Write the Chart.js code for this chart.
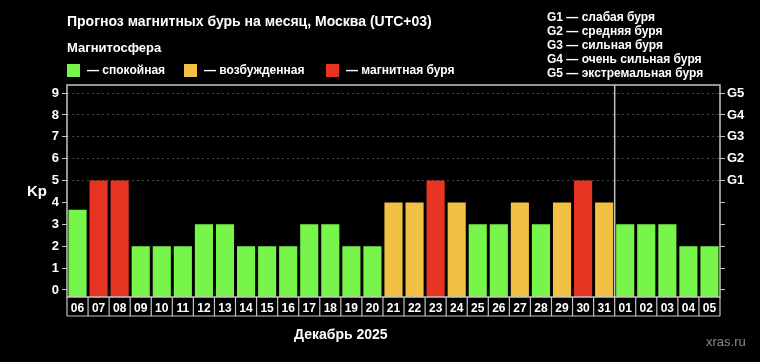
<!DOCTYPE html>
<html>
<head>
<meta charset="utf-8">
<script src="https://cdn.jsdelivr.net/npm/chart.js@4/dist/chart.umd.min.js"></script>
<style>
  html, body { margin: 0; padding: 0; background: #000; }
  #wrap { position: relative; width: 760px; height: 362px; overflow: hidden; background: #000;
    font-family: "Liberation Sans", Arial, sans-serif; color: #fff; }
  #wrap canvas { position: absolute; left: 0; top: 0; }
  .t { position: absolute; white-space: nowrap; font-weight: bold; }
  .sq { position: absolute; width: 13px; height: 13px; top: 64px; }
</style>
</head>
<body>
<div id="wrap">
  <canvas id="kpChart" width="760" height="362"></canvas>
  <div class="t" id="title" style="left:67px; top:13px; font-size:14px; line-height:16px;"></div>
  <div class="t" id="subtitle" style="left:67px; top:40px; font-size:13px; line-height:16px;"></div>
  <div id="legend"></div>
  <div class="t" id="glist" style="left:547px; top:10px; font-size:12px; line-height:14px;"></div>
  <div class="t" id="mark" style="left:706px; top:335px; font-size:13px; line-height:14px; color:#8a8a8a; font-weight:normal;">xras.ru</div>
</div>
<script>
// данные графика
const days = ['06','07','08','09','10','11','12','13','14','15','16','17','18','19','20',
              '21','22','23','24','25','26','27','28','29','30','31','01','02','03','04','05'];
const kp = [3.67, 5, 5, 2, 2, 2, 3, 3, 2, 2, 2, 3, 3, 2, 2,
            4, 4, 5, 4, 3, 3, 4, 3, 4, 5, 4, 3, 3, 3, 2, 2];
const yTicks = [0, 1, 2, 3, 4, 5, 6, 7, 8, 9];
const gLabels = ['G1', 'G2', 'G3', 'G4', 'G5'];   // Kp 5..9
const gNames = ['слабая буря', 'средняя буря', 'сильная буря', 'очень сильная буря', 'экстремальная буря'];
const stateNames = ['спокойная', 'возбужденная', 'магнитная буря'];
const stateColors = ['#78f54b', '#f2c144', '#e73423'];
const monthLabel = 'Декабрь 2025';
const titleText = 'Прогноз магнитных бурь на месяц, Москва (UTC+03)';

const Y_MIN = -0.32, Y_MAX = 9.37;
const frameColor = '#c4c4c4';
const fontFamily = '"Liberation Sans", Arial, sans-serif';

// текст над графиком
document.getElementById('title').textContent = titleText;
document.getElementById('subtitle').textContent = 'Магнитосфера';
document.getElementById('glist').innerHTML = gLabels.map((g, i) => g + ' — ' + gNames[i]).join('<br>');
const legendPos = [67, 184, 326];
document.getElementById('legend').innerHTML = stateNames.map((name, i) =>
  '<div class="sq" style="left:' + legendPos[i] + 'px; background:' + stateColors[i] + ';"></div>' +
  '<div class="t" style="left:' + (legendPos[i] + 20) + 'px; top:62px; font-size:12px; line-height:16px;">— ' + name + '</div>'
).join('');

const colorFor = (v) => v >= 5 ? stateColors[2] : (v >= 4 ? stateColors[1] : stateColors[0]);
const newMonthIdx = days.indexOf('01');

const framePlugin = {
  id: 'frame',
  afterDraw(chart) {
    const { ctx, chartArea: a, scales } = chart;
    const x = scales.x;
    const half = (x.getPixelForValue(1) - x.getPixelForValue(0)) / 2;
    ctx.save();
    ctx.strokeStyle = frameColor;
    ctx.lineWidth = 1.5;
    ctx.strokeRect(a.left, a.top, a.right - a.left, a.bottom - a.top);
    // граница месяцев
    const sx = x.getPixelForValue(newMonthIdx) - half;
    ctx.beginPath();
    ctx.moveTo(sx, a.top);
    ctx.lineTo(sx, a.bottom);
    ctx.stroke();
    // клетки с датами
    const boxBottom = a.bottom + 19;
    ctx.lineWidth = 1.2;
    ctx.beginPath();
    for (let i = 0; i <= days.length; i++) {
      const px = i < days.length ? x.getPixelForValue(i) - half : x.getPixelForValue(days.length - 1) + half;
      ctx.moveTo(px, a.bottom);
      ctx.lineTo(px, boxBottom);
    }
    ctx.moveTo(a.left, boxBottom);
    ctx.lineTo(a.right, boxBottom);
    ctx.stroke();
    // подписи
    ctx.fillStyle = '#fff';
    ctx.font = 'bold 15px ' + fontFamily;
    ctx.textAlign = 'center';
    ctx.textBaseline = 'middle';
    ctx.fillText('Kp', 37, scales.y.getPixelForValue(4.5));
    ctx.font = 'bold 14px ' + fontFamily;
    ctx.fillText(monthLabel, (a.left + sx) / 2, 335);
    ctx.restore();
  }
};

new Chart(document.getElementById('kpChart'), {
  type: 'bar',
  data: {
    labels: days,
    datasets: [{
      data: kp,
      base: Y_MIN,
      backgroundColor: kp.map(colorFor),
      borderWidth: 0,
      categoryPercentage: 1,
      barPercentage: 0.86
    }]
  },
  options: {
    responsive: false,
    animation: false,
    layout: { padding: { top: 85, left: 0, right: 0, bottom: 0 } },
    plugins: { legend: { display: false }, tooltip: { enabled: false } },
    scales: {
      x: {
        grid: { display: false },
        border: { display: false },
        ticks: { color: '#fff', font: { family: fontFamily, size: 12, weight: 'bold' }, padding: -4, maxRotation: 0, autoSkip: false },
        afterFit(s) { s.height = 65; }
      },
      y: {
        min: Y_MIN, max: Y_MAX,
        afterBuildTicks(s) { s.ticks = yTicks.map(v => ({ value: v })); },
        grid: {
          color: (c) => c.tick && c.tick.value >= 5 ? '#4a4a4a' : 'rgba(0,0,0,0)',
          tickColor: frameColor, tickLength: 5, lineWidth: 1
        },
        border: { display: false, dash: [2, 3] },
        ticks: { color: '#fff', font: { family: fontFamily, size: 13, weight: 'bold' }, padding: 3 },
        afterFit(s) { s.width = 67; }
      },
      y2: {
        position: 'right',
        min: Y_MIN, max: Y_MAX,
        afterBuildTicks(s) { s.ticks = yTicks.map(v => ({ value: v })); },
        grid: { drawOnChartArea: false, tickColor: frameColor, tickLength: 5 },
        border: { display: false },
        ticks: {
          color: '#fff', font: { family: fontFamily, size: 13, weight: 'bold' }, padding: 2,
          callback: (v) => v >= 5 ? gLabels[v - 5] : ''
        },
        afterFit(s) { s.width = 40; }
      }
    }
  },
  plugins: [framePlugin]
});
</script>
</body>
</html>
